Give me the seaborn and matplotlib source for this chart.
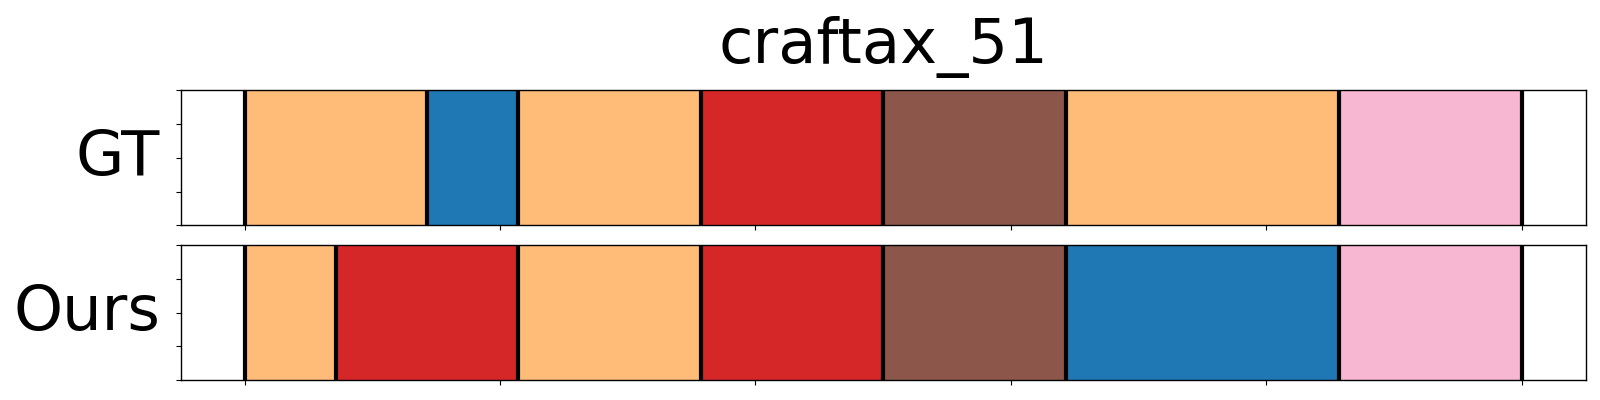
import numpy as np
import pandas as pd
import matplotlib
matplotlib.use("Agg")
import matplotlib.pyplot as plt
import seaborn as sns

# segment boundaries (in frames) and class ids per segment
n_frames = 14
gt_bounds = [0, 2, 3, 5, 7, 9, 12, 14]
gt_classes = [3, 0, 3, 6, 10, 3, 13]
ours_bounds = [0, 1, 3, 5, 7, 9, 12, 14]
ours_classes = [3, 6, 3, 6, 10, 0, 13]
row_names = ["GT", "Ours"]
title = "craftax_51"

sns.set_style("ticks", {"axes.edgecolor": "black", "text.color": "black",
                        "axes.labelcolor": "black", "xtick.color": "black",
                        "ytick.color": "black"})
plt.rcParams["font.family"] = ["DejaVu Sans"]
plt.rcParams["axes.linewidth"] = 1.0

tab20 = sns.color_palette("tab20", 20)
palette = {c: tab20[c] for c in set(gt_classes + ours_classes)}


def seg_frame(bounds, classes):
    b = np.array(bounds) / n_frames
    return pd.DataFrame({
        "mid": (b[:-1] + b[1:]) / 2,
        "cls": classes,
    }), b


fig, axes = plt.subplots(2, 1, figsize=(16, 4), dpi=100)
fig.subplots_adjust(left=0.113, right=0.991, top=0.774, bottom=0.05, hspace=0.148)

for ax, name, (bounds, classes) in zip(axes, row_names,
                                       [(gt_bounds, gt_classes), (ours_bounds, ours_classes)]):
    df, edges = seg_frame(bounds, classes)
    sns.histplot(data=df, x="mid", hue="cls", bins=edges, multiple="stack",
                 palette=palette, alpha=1, linewidth=0, legend=False, ax=ax)
    for e in edges:
        ax.axvline(e, color="black", lw=3)
    ax.set_ylim(0, 1)
    ax.set_xlim(-0.05, 1.05)
    ax.set_xticks(np.linspace(0, 1, 6))
    ax.set_xticklabels([])
    ax.set_yticks(np.linspace(0, 1, 5))
    ax.set_yticklabels([])
    ax.set_xlabel("")
    ax.set_ylabel(name, fontsize=45, rotation=0, ha="right", va="center", labelpad=8)

axes[0].set_title(title, fontsize=45, pad=20)
fig.savefig("out.png", dpi=100)
